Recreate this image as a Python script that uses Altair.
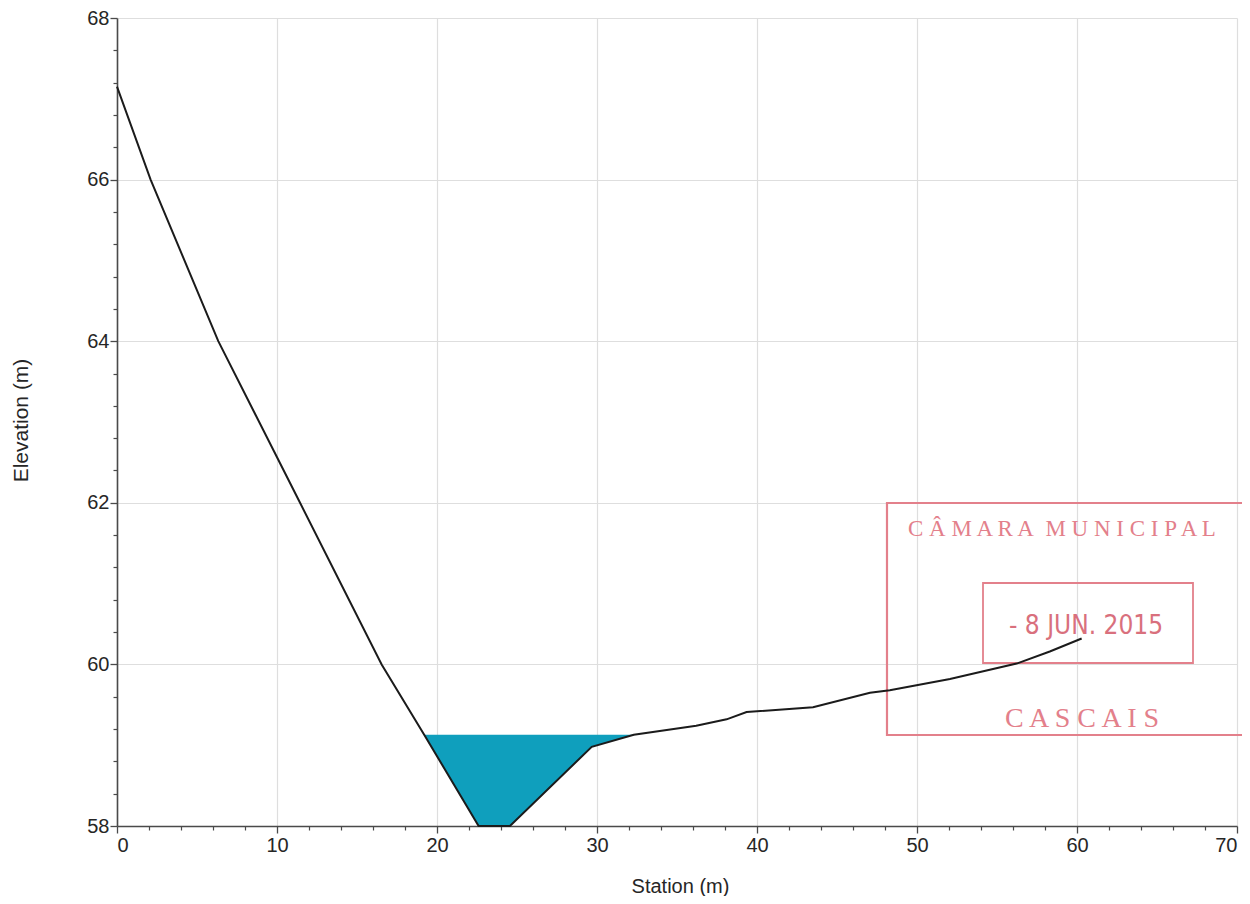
import altair as alt
import pandas as pd

# Ground profile (station m, elevation m)
station = [0.0, 2.1, 6.33, 11.44, 16.54, 19.2, 22.6, 24.56, 29.67, 32.3, 36.2,
           38.1, 39.35, 43.5, 47.06, 48.3, 52.06, 56.23, 58.3, 60.29]
elevation = [67.15, 66.0, 64.0, 62.0, 60.0, 59.13, 58.0, 58.0, 58.98, 59.13, 59.24,
             59.32, 59.41, 59.47, 59.65, 59.68, 59.82, 60.01, 60.16, 60.32]

# Water section
water_station = [19.2, 22.6, 24.56, 29.67, 32.3]
water_bed = [59.13, 58.0, 58.0, 58.98, 59.13]
water_level = [59.13, 59.13, 59.13, 59.13, 59.13]

# Axis ticks
x_major = [0, 10, 20, 30, 40, 50, 60, 70]
x_minor = [2, 4, 6, 8, 12, 14, 16, 18, 22, 24, 26, 28, 32, 34, 36, 38,
           42, 44, 46, 48, 52, 54, 56, 58, 62, 64, 66, 68]
y_major = [58, 60, 62, 64, 66, 68]
y_minor = [58.4, 58.8, 59.2, 59.6, 60.4, 60.8, 61.2, 61.6, 62.4, 62.8, 63.2, 63.6,
           64.4, 64.8, 65.2, 65.6, 66.4, 66.8, 67.2, 67.6]

# Stamp texts
stamp_top = ["C Â M A R A\u2002M U N I C I P A L"]
stamp_date = ["- 8 JUN. 2015"]
stamp_bottom = ["C A S C A I S"]

ground_df = pd.DataFrame({"station": station, "elevation": elevation})
water_df = pd.DataFrame({"station": water_station, "bed": water_bed, "level": water_level})
one = pd.DataFrame({"k": [0]})

xs = alt.Scale(domain=[0, 70], nice=False, zero=False)
ys = alt.Scale(domain=[58, 68], nice=False, zero=False)

FONT = "Liberation Sans"
INK = "#262626"
DOM = "#4a4a4a"
GRID = "#dedede"

x_axis_major = alt.Axis(values=x_major, orient="bottom", grid=True, gridColor=GRID, gridWidth=1.2,
                        domainColor=DOM, domainWidth=1.6, tickColor=DOM, tickSize=7, tickWidth=1.3,
                        labelFont=FONT, labelFontSize=20, labelColor=INK, labelPadding=2,
                        title="Station (m)", titleFont=FONT, titleFontSize=20, titleFontWeight="normal",
                        titleColor=INK, titleX=563, titleY=50, titleBaseline="top")
y_axis_major = alt.Axis(values=y_major, orient="left", grid=True, gridColor=GRID, gridWidth=1.2,
                        domainColor=DOM, domainWidth=1.6, tickColor=DOM, tickSize=7, tickWidth=1.3,
                        labelFont=FONT, labelFontSize=20, labelColor=INK, labelPadding=1,
                        title="Elevation (m)", titleFont=FONT, titleFontSize=21, titleFontWeight="normal",
                        titleColor=INK, titleX=-86, titleY=402, titleAngle=270, titleBaseline="bottom")
x_axis_minor = alt.Axis(values=x_minor, orient="bottom", grid=False, domain=False, labels=False,
                        tickColor=DOM, tickSize=4, tickWidth=1.2, title=None)
y_axis_minor = alt.Axis(values=y_minor, orient="left", grid=False, domain=False, labels=False,
                        tickColor=DOM, tickSize=4, tickWidth=1.2, title=None)

water = alt.Chart(water_df).mark_area(color="#0f9fbd", opacity=1).encode(
    x=alt.X("station:Q", scale=xs, axis=x_axis_major),
    y=alt.Y("bed:Q", scale=ys, axis=y_axis_major),
    y2="level:Q",
)

ground = alt.Chart(ground_df).mark_line(color="#1b1b1b", strokeWidth=2).encode(
    x=alt.X("station:Q", scale=xs, axis=x_axis_minor),
    y=alt.Y("elevation:Q", scale=ys, axis=y_axis_minor),
)

STAMP = "#e3808b"
stamp_frame = alt.Chart(one).mark_rect(fillOpacity=0, stroke=STAMP, strokeWidth=2.2).encode(
    x=alt.value(770), x2=alt.value(1160), y=alt.value(485), y2=alt.value(717))
stamp_inner = alt.Chart(one).mark_rect(fillOpacity=0, stroke=STAMP, strokeWidth=1.8).encode(
    x=alt.value(866), x2=alt.value(1076), y=alt.value(565), y2=alt.value(645))
stamp_t1 = alt.Chart(pd.DataFrame({"t": stamp_top})).mark_text(
    font="Liberation Serif", fontSize=23, color=STAMP, align="left", baseline="alphabetic").encode(
    x=alt.value(791), y=alt.value(518), text="t:N")
stamp_t2 = alt.Chart(pd.DataFrame({"t": stamp_date})).mark_text(
    font="'Liberation Sans Narrow', 'DejaVu Sans Condensed', 'Liberation Sans', sans-serif",
    fontSize=26, fontWeight="normal", color="#d9707d",
    align="center", baseline="middle").encode(
    x=alt.value(969), y=alt.value(608), text="t:N")
stamp_t3 = alt.Chart(pd.DataFrame({"t": stamp_bottom})).mark_text(
    font="Liberation Serif", fontSize=28, color=STAMP, align="center", baseline="middle").encode(
    x=alt.value(965), y=alt.value(701), text="t:N")

chart = alt.layer(
    water, stamp_frame, stamp_inner, stamp_t1, stamp_t2, stamp_t3, ground
).resolve_axis(x="independent", y="independent").properties(
    width=1120, height=808,
    autosize=alt.AutoSizeParams(type="none"),
    padding={"left": 109, "top": 10, "right": 5, "bottom": 70},
).configure_view(stroke=None)

chart.save("out.html", embed_options={"renderer": "svg", "actions": False})
